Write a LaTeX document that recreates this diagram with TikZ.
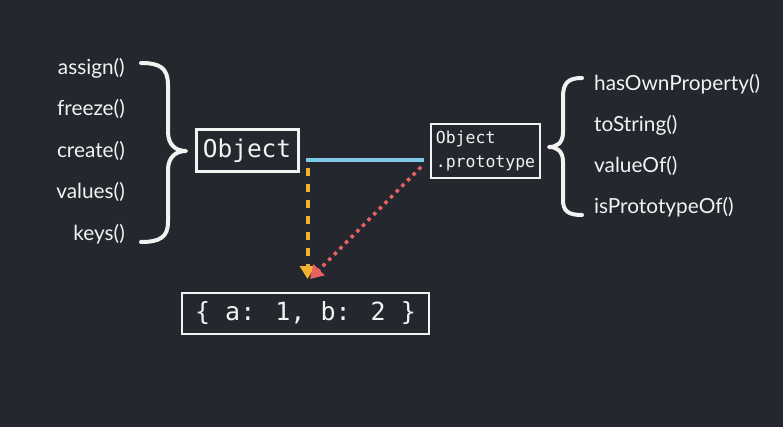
\documentclass[tikz,border=0pt]{standalone}
\usepackage{fontspec}
\setmainfont{Lato}
\newfontfamily\codefont{DejaVu Sans Mono}
\usetikzlibrary{arrows.meta}
\definecolor{bg}{RGB}{37,39,47}
\definecolor{fg}{RGB}{242,242,242}
\definecolor{lineblue}{RGB}{126,200,232}
\definecolor{lineorange}{RGB}{240,176,48}
\definecolor{linered}{RGB}{232,96,96}
\tikzset{
  meth/.style={text=fg, font=\fontsize{20.8}{22}\selectfont, inner sep=0pt},
  codebox/.style={draw=fg, text=fg, inner sep=0pt},
  brace/.style={draw=fg, line width=4pt, line cap=round, line join=round},
}
\begin{document}
\begin{tikzpicture}[x=1pt,y=-1pt]
\fill[bg] (0,0) rectangle (783,427);
\useasboundingbox (0,0) rectangle (783,427);

% left labels
\node[meth, anchor=east] (assign) at (125,68) {assign()};
\node[meth, anchor=east] (freeze) at (125,109) {freeze()};
\node[meth, anchor=east] (create) at (125,151) {create()};
\node[meth, anchor=east] (values) at (125,192) {values()};
\node[meth, anchor=east] (keys) at (125,234) {keys()};

% left brace
\draw[brace] (141,63) .. controls (160,63) and (168,68) .. (168,85)
  -- (168,132) .. controls (168,145) and (176,151) .. (186,151)
  .. controls (176,151) and (168,157) .. (168,170)
  -- (168,222) .. controls (168,237) and (160,242) .. (141,242);

% Object box
\node[codebox, line width=3pt, minimum width=102pt, minimum height=42pt,
  font=\codefont\fontsize{24.5}{26}\selectfont] (obj) at (247,151) {Object};

% prototype box
\node[codebox, line width=2pt, minimum width=109pt, minimum height=54pt,
  align=left, font=\codefont\fontsize{16.5}{24}\selectfont] (proto) at (485.5,151) {Object\\.prototype};

% right brace
\draw[brace] (582,78) .. controls (568,78) and (563,83) .. (563,97)
  -- (563,132) .. controls (563,143) and (557,147) .. (549,147)
  .. controls (557,147) and (563,151) .. (563,162)
  -- (563,200) .. controls (563,211) and (568,215) .. (582,215);

% right labels
\node[meth, anchor=west] (hop) at (594,84) {hasOwnProperty()};
\node[meth, anchor=west] (tostr) at (594,125) {toString()};
\node[meth, anchor=west] (valof) at (594,166) {valueOf()};
\node[meth, anchor=west] (isproto) at (594,207) {isPrototypeOf()};

% literal box
\node[codebox, line width=2.5pt, minimum width=247pt, minimum height=41pt,
  font=\codefont\fontsize{25}{27}\selectfont] (lit) at (305.5,313.5) {\{ a: 1, b: 2 \}};

% connectors
\coordinate (bstart) at ([xshift=6pt,yshift=-9pt]obj.east);
\coordinate (bend) at (proto.west |- bstart);
\draw[lineblue, line width=3.5pt] (bstart) -- ([xshift=-6pt]bend);

\coordinate (ostart) at ([xshift=8pt,yshift=-17pt]obj.east);
\coordinate (otip) at (ostart |- 0,279);
\draw[lineorange, line width=4pt, dash pattern=on 8pt off 8pt,
  -{Triangle[length=13pt,width=15pt]}] (ostart) -- (otip);

\coordinate (rstart) at ([xshift=-9pt,yshift=-16pt]proto.west);
\coordinate (rtip) at (310,279);
\draw[linered, line width=3.5pt, dash pattern=on 3.5pt off 4.5pt,
  -{Triangle[length=13pt,width=15pt]}] (rstart) -- (rtip);
\end{tikzpicture}
\end{document}
